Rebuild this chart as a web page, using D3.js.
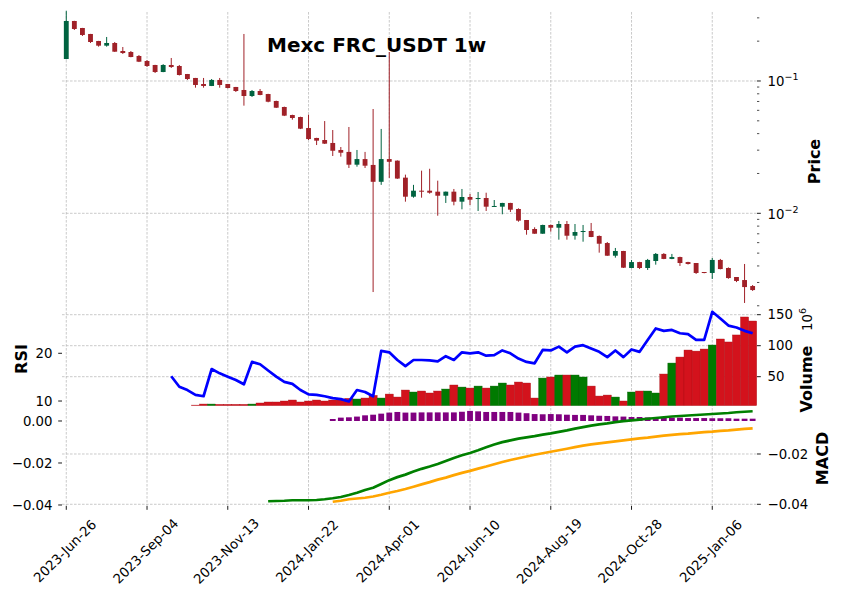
<!DOCTYPE html>
<html><head><meta charset="utf-8">
<script src="https://cdn.jsdelivr.net/npm/d3@7"></script>
<style>
body{margin:0;background:#fff}
text{font-family:"DejaVu Sans",sans-serif;fill:#000}
</style>
</head><body>
<svg id="chart" width="841" height="599"></svg>
<script>
// ---------------- DATA ----------------
const title = "Mexc FRC_USDT 1w";
const startDate = "2023-Jun-26";
const tickLabels = ["2023-Jun-26","2023-Sep-04","2023-Nov-13","2024-Jan-22","2024-Apr-01","2024-Jun-10","2024-Aug-19","2024-Oct-28","2025-Jan-06"];

const opens  = [0.1466,0.2841,0.2515,0.2266,0.2006,0.1849,0.1937,0.1685,0.1656,0.1545,
0.1416,0.1321,0.1169,0.1321,0.1298,0.1129,0.1054,0.0949,0.0917,0.1018,
0.0949,0.0901,0.0855,0.0770,0.0840,0.0797,0.0706,0.0636,0.0553,0.0534,
0.0441,0.0371,0.0358,0.0340,0.0301,0.0291,0.0233,0.0257,0.0232,0.0173,
0.0257,0.0250,0.0186,0.01335,0.01482,0.01482,0.01457,0.01358,0.01457,0.01224,
0.01328,0.01282,0.01305,0.01122,0.01122,0.01197,0.01078,0.00890,0.00761,0.00701,
0.00816,0.00778,0.00830,0.00677,0.00722,0.00735,0.00674,0.00596,0.00478,0.00519,
0.00386,0.00428,0.00386,0.00436,0.00493,0.00452,0.00467,0.00428,0.00421,0.00360,
0.00354,0.00444,0.00386,0.00330,0.00313,0.00282];
const highs  = [0.3396,0.2850,0.2520,0.2270,0.2010,0.2151,0.1971,0.1807,0.1685,0.1570,
0.1440,0.1325,0.1340,0.1492,0.1321,0.1130,0.1055,0.1054,0.1035,0.1054,
0.0950,0.0902,0.2266,0.0855,0.0870,0.0800,0.0710,0.0640,0.0556,0.0537,
0.0556,0.0372,0.0498,0.0426,0.0317,0.0449,0.0301,0.0291,0.0614,0.0434,
0.1656,0.0251,0.0196,0.0164,0.0210,0.0217,0.01764,0.0146,0.01527,0.01527,
0.01399,0.01449,0.01431,0.01260,0.0120,0.0120,0.0109,0.0089,0.00784,0.0082,
0.0082,0.00875,0.00875,0.00830,0.00816,0.00845,0.0068,0.00607,0.00547,0.0052,
0.00444,0.0043,0.00452,0.00501,0.0050,0.00493,0.0047,0.0043,0.00421,0.0036,
0.00459,0.00452,0.0039,0.0033,0.00414,0.00287];
const lows   = [0.1460,0.2429,0.2188,0.1937,0.1817,0.1817,0.1660,0.1600,0.1510,0.1390,
0.1276,0.1149,0.1165,0.1254,0.1100,0.1018,0.0890,0.0890,0.0915,0.0890,
0.0880,0.0826,0.0651,0.0757,0.0780,0.0690,0.0625,0.0543,0.0510,0.0433,
0.0358,0.0328,0.0334,0.0271,0.0268,0.0220,0.0225,0.0220,0.00254,0.0164,
0.0185,0.0182,0.01224,0.01312,0.01312,0.01407,0.00959,0.01197,0.01149,0.01072,
0.01156,0.01041,0.01041,0.0112,0.00983,0.01023,0.00864,0.00689,0.0070,0.0070,
0.00726,0.00632,0.00632,0.00632,0.00610,0.0066,0.00504,0.00477,0.00462,0.00386,
0.00385,0.00379,0.00373,0.00409,0.0045,0.0045,0.00400,0.0041,0.00348,0.00352,
0.00319,0.00377,0.0032,0.00302,0.00210,0.00259];
const closes = [0.2841,0.2472,0.2227,0.1971,0.1849,0.1937,0.1665,0.1627,0.1518,0.1399,
0.1298,0.1169,0.1321,0.1276,0.1110,0.1035,0.0933,0.0917,0.1018,0.0933,
0.0885,0.0840,0.0770,0.0840,0.0784,0.0697,0.0628,0.0547,0.0525,0.0436,
0.0364,0.0354,0.0336,0.0297,0.0287,0.0233,0.0257,0.0229,0.0173,0.0257,
0.0245,0.0183,0.01335,0.01482,0.01457,0.01431,0.01358,0.01457,0.01224,0.01328,
0.01267,0.01305,0.01122,0.01136,0.01197,0.01065,0.00880,0.00748,0.00701,0.00816,
0.00778,0.00830,0.00677,0.00722,0.00735,0.00662,0.00589,0.00478,0.00519,0.00388,
0.00428,0.00386,0.00444,0.00493,0.00452,0.00467,0.00421,0.00414,0.00354,0.00354,
0.00444,0.00379,0.00324,0.00308,0.00277,0.00263];

// volume in millions (null = not drawn)
const volumes = [null,null,null,null,null,null,null,null,null,null,
null,null,null,null,null,null,4.2,5.9,5.9,5.4,
5.4,5.4,5.4,5.9,7.6,9.2,9.2,10.8,12.4,9.2,
10.8,12.4,10.8,12.4,14.0,15.1,14.0,15.6,19.9,15.6,
22.0,17.2,28.5,25.3,26.9,23.7,26.9,30.1,36.6,33.3,
31.7,34.9,31.7,34.9,39.8,36.6,41.4,39.8,15.6,47.8,
49.5,52.7,52.7,52.7,49.5,34.9,18.8,20.4,17.2,10.8,
25.3,26.9,26.9,23.7,54.3,72.0,81.7,93.0,91.3,94.6,
101.1,110.8,106.0,117.3,146.3,139.8];

const rsi = [null,null,null,null,null,null,null,null,null,null,
null,null,null,15.2,13.0,12.3,11.3,11.0,16.7,15.8,
15.1,14.4,13.5,18.2,17.7,16.4,15.1,14.0,13.6,12.3,
11.4,11.3,11.0,10.6,10.4,9.9,12.3,11.9,11.0,20.5,
20.2,18.6,17.3,18.6,18.6,18.5,18.3,19.4,18.6,20.2,
20.0,20.2,19.5,19.6,20.6,20.0,18.9,18.2,17.9,20.7,
20.6,21.4,20.2,21.4,21.7,21.0,20.3,19.2,20.6,19.2,
20.8,20.3,22.8,25.2,24.7,24.9,24.2,24.0,22.8,22.8,
28.7,27.3,25.8,25.4,24.7,24.2];

const macdLine = [null,null,null,null,null,null,null,null,null,null,
null,null,null,null,null,null,null,null,null,null,
null,null,null,null,null,-0.0388,-0.0387,-0.0386,-0.0384,-0.0384,
-0.0384,-0.0383,-0.0380,-0.0376,-0.0371,-0.0363,-0.0354,-0.0343,-0.0334,-0.0319,
-0.0304,-0.0292,-0.0282,-0.0270,-0.0259,-0.0250,-0.0240,-0.0228,-0.0216,-0.0205,
-0.0196,-0.0185,-0.0173,-0.0162,-0.0153,-0.0146,-0.0139,-0.0134,-0.0129,-0.0123,
-0.0118,-0.0112,-0.0106,-0.0099,-0.0093,-0.0087,-0.0082,-0.0078,-0.0073,-0.0069,
-0.0066,-0.0063,-0.0060,-0.0057,-0.0054,-0.0051,-0.0049,-0.0047,-0.0045,-0.0043,
-0.0041,-0.0039,-0.0037,-0.0034,-0.0032,-0.0030];

const signalLine = [null,null,null,null,null,null,null,null,null,null,
null,null,null,null,null,null,null,null,null,null,
null,null,null,null,null,null,null,null,null,null,
null,null,null,-0.0390,-0.0386,-0.0380,-0.0377,-0.0374,-0.0369,-0.0362,
-0.0354,-0.0347,-0.0339,-0.0330,-0.0321,-0.0312,-0.0302,-0.0294,-0.0284,-0.0275,
-0.0267,-0.0258,-0.0250,-0.0241,-0.0232,-0.0224,-0.0217,-0.0210,-0.0203,-0.0197,
-0.0191,-0.0185,-0.0179,-0.0173,-0.0167,-0.0162,-0.0158,-0.0154,-0.0150,-0.0146,
-0.0142,-0.0138,-0.0135,-0.0131,-0.0127,-0.0124,-0.0121,-0.0119,-0.0116,-0.0113,
-0.0111,-0.0108,-0.0106,-0.0103,-0.0100,-0.0098];

const macdHist = [null,null,null,null,null,null,null,null,null,null,
null,null,null,null,null,null,null,null,null,null,
null,null,null,null,null,null,null,null,null,null,
null,null,null,0.00095,0.0016,0.00175,0.0021,0.0027,0.0030,0.0035,
0.0040,0.0043,0.0040,0.0040,0.0041,0.0041,0.0041,0.0041,0.0041,0.0044,
0.0048,0.0046,0.0043,0.0043,0.0043,0.0043,0.0040,0.0037,0.0033,0.0032,
0.0033,0.0032,0.0030,0.0029,0.0029,0.0027,0.0025,0.0024,0.0022,0.0021,
0.0019,0.0019,0.0017,0.0017,0.0017,0.0016,0.0016,0.0014,0.0014,0.0014,
0.0013,0.0013,0.0013,0.0011,0.0011,0.0011];

const priceMajorTicks = [0.1, 0.01];
const priceMinorTicks = [0.3,0.2,0.09,0.08,0.07,0.06,0.05,0.04,0.03,0.02,0.009,0.008,0.007,0.006,0.005,0.004,0.003,0.002];
const volumeTicks = [50,100,150];
const rsiTicks = [10,20];
const macdRightTicks = [-0.02,-0.04];
const macdLeftTicks = [0.00,-0.02,-0.04];

// ---------------- LAYOUT ----------------
const W = 841, H = 599;
const L = 62, R = 757;
const P = {top:12, bot:307};     // price panel
const V = {top:307, bot:405.6};  // volume / rsi panel
const M = {top:405.6, bot:506};  // macd panel
const COLORS = {up:"#006340", down:"#a02128", volUp:"#007a00", volDown:"#d3121c",
  rsi:"#0000ff", macd:"#008000", signal:"#ffa500", hist:"#800080", grid:"#bdbdbd"};

const svg = d3.select("#chart");
const n = opens.length;
const idx = d3.range(n);

const x = d3.scaleLinear().domain([-0.53, 85.54]).range([L, R]);
const step = x(1) - x(0);

const yP = d3.scaleLog().domain([0.001958, 0.3322]).range([P.bot, P.top]);
const yV = d3.scaleLinear().domain([3.4, 162.4]).range([V.bot, V.top]);
const yR = d3.scaleLinear().domain([9.04, 29.7]).range([V.bot, V.top]);
const yM = d3.scaleLinear().domain([-0.04068, -0.00076]).range([M.bot, M.top]);
const yH = d3.scaleLinear().domain([-0.04048, 0.00733]).range([M.bot, M.top]);

const parse = d3.timeParse("%Y-%b-%d");
const t0 = parse(startDate);
const tickPos = tickLabels.map(s => Math.round((parse(s) - t0) / (7*864e5)));

// ---------------- GRID ----------------
const grid = svg.append("g").attr("stroke", COLORS.grid).attr("stroke-width", 0.8)
  .attr("stroke-dasharray", "2.6,1.4").attr("fill", "none");
grid.selectAll("line.v").data(tickPos).join("line")
  .attr("x1", d => x(d)).attr("x2", d => x(d)).attr("y1", P.top).attr("y2", M.bot);
grid.selectAll("line.hp").data(priceMajorTicks).join("line")
  .attr("x1", L).attr("x2", R).attr("y1", d => yP(d)).attr("y2", d => yP(d));
grid.selectAll("line.hv").data(volumeTicks).join("line")
  .attr("x1", L).attr("x2", R).attr("y1", d => yV(d)).attr("y2", d => yV(d));
grid.selectAll("line.hm").data(macdRightTicks).join("line")
  .attr("x1", L).attr("x2", R).attr("y1", d => yM(d)).attr("y2", d => yM(d));

// ---------------- CANDLES ----------------
const candles = idx.map(i => ({i, o:opens[i], h:highs[i], l:lows[i], c:closes[i]}));
const cc = d => d.c >= d.o ? COLORS.up : COLORS.down;
const cg = svg.append("g");
cg.selectAll("line").data(candles).join("line")
  .attr("x1", d => x(d.i)).attr("x2", d => x(d.i))
  .attr("y1", d => yP(d.h)).attr("y2", d => yP(d.l))
  .attr("stroke", cc).attr("stroke-width", 1);
const bw = step * 0.6;
cg.selectAll("rect").data(candles).join("rect")
  .attr("x", d => x(d.i) - bw/2)
  .attr("y", d => yP(Math.max(d.o, d.c)))
  .attr("width", bw)
  .attr("height", d => Math.max(1, yP(Math.min(d.o, d.c)) - yP(Math.max(d.o, d.c))))
  .attr("fill", cc);

// ---------------- VOLUME ----------------
const vols = idx.filter(i => volumes[i] != null).map(i => ({i, v:volumes[i], up: closes[i] >= opens[i]}));
svg.append("g").selectAll("rect").data(vols).join("rect")
  .attr("x", d => x(d.i) - step/2)
  .attr("width", step)
  .attr("y", d => yV(d.v))
  .attr("height", d => Math.max(0.5, V.bot - yV(d.v)))
  .attr("fill", d => d.up ? COLORS.volUp : COLORS.volDown)
  .attr("stroke", d => d3.color(d.up ? COLORS.volUp : COLORS.volDown).darker(0.6))
  .attr("stroke-width", 0.4);

// RSI line
const rsiPts = idx.filter(i => rsi[i] != null).map(i => [x(i), yR(rsi[i])]);
svg.append("path").attr("d", d3.line()(rsiPts)).attr("fill", "none")
  .attr("stroke", COLORS.rsi).attr("stroke-width", 2.7).attr("stroke-linejoin", "round");

// ---------------- MACD ----------------
const hist = idx.filter(i => macdHist[i] != null).map(i => ({i, v: macdHist[i]}));
const hw = step * 0.72;
svg.append("g").selectAll("rect").data(hist).join("rect")
  .attr("x", d => x(d.i) - hw/2).attr("width", hw)
  .attr("y", d => Math.min(yH(d.v), yH(0)))
  .attr("height", d => Math.abs(yH(0) - yH(d.v)))
  .attr("fill", COLORS.hist);

const sigPts = idx.filter(i => signalLine[i] != null).map(i => [x(i), yM(signalLine[i])]);
svg.append("path").attr("d", d3.line()(sigPts)).attr("fill", "none")
  .attr("stroke", COLORS.signal).attr("stroke-width", 2.7).attr("stroke-linejoin", "round");
const macdPts = idx.filter(i => macdLine[i] != null).map(i => [x(i), yM(macdLine[i])]);
svg.append("path").attr("d", d3.line()(macdPts)).attr("fill", "none")
  .attr("stroke", COLORS.macd).attr("stroke-width", 2.7).attr("stroke-linejoin", "round");

// ---------------- AXES ----------------
const FS = 13.3;
const ax = svg.append("g");
// right price axis
ax.selectAll("line.pmaj").data(priceMajorTicks).join("line")
  .attr("x1", R).attr("x2", R + 3.8).attr("y1", d => yP(d)).attr("y2", d => yP(d))
  .attr("stroke", "#000").attr("stroke-width", 0.9);
ax.selectAll("line.pmin").data(priceMinorTicks).join("line")
  .attr("x1", R).attr("x2", R + 2.3).attr("y1", d => yP(d)).attr("y2", d => yP(d))
  .attr("stroke", "#000").attr("stroke-width", 0.7);
priceMajorTicks.forEach(v => {
  const t = ax.append("text").attr("x", R + 10.5).attr("y", yP(v) + 5.5).attr("font-size", FS);
  t.append("tspan").text("10");
  t.append("tspan").attr("dy", -6).attr("font-size", 9.5).text("\u2212" + Math.round(-Math.log10(v)));
});
// right volume axis
ax.selectAll("line.vt").data(volumeTicks).join("line")
  .attr("x1", R).attr("x2", R + 3.8).attr("y1", d => yV(d)).attr("y2", d => yV(d))
  .attr("stroke", "#000").attr("stroke-width", 0.9);
ax.selectAll("text.vt").data(volumeTicks).join("text")
  .attr("x", R + 10.5).attr("y", d => yV(d)).attr("dy", "0.36em").attr("font-size", FS)
  .text(d => d);
// right macd axis
ax.selectAll("line.mt").data(macdRightTicks).join("line")
  .attr("x1", R).attr("x2", R + 3.8).attr("y1", d => yM(d)).attr("y2", d => yM(d))
  .attr("stroke", "#000").attr("stroke-width", 0.9);
ax.selectAll("text.mt").data(macdRightTicks).join("text")
  .attr("x", R + 10.5).attr("y", d => yM(d)).attr("dy", "0.36em").attr("font-size", FS)
  .text(d => d3.format(".2f")(d).replace("-", "\u2212"));
// left rsi axis
ax.selectAll("line.rt").data(rsiTicks).join("line")
  .attr("x1", L - 3.8).attr("x2", L).attr("y1", d => yR(d)).attr("y2", d => yR(d))
  .attr("stroke", "#000").attr("stroke-width", 0.9);
ax.selectAll("text.rt").data(rsiTicks).join("text")
  .attr("x", L - 9.5).attr("y", d => yR(d)).attr("dy", "0.36em").attr("font-size", FS)
  .attr("text-anchor", "end").text(d => d);
// left macd axis
ax.selectAll("line.lt").data(macdLeftTicks).join("line")
  .attr("x1", L - 3.8).attr("x2", L).attr("y1", d => yH(d)).attr("y2", d => yH(d))
  .attr("stroke", "#000").attr("stroke-width", 0.9);
ax.selectAll("text.lt").data(macdLeftTicks).join("text")
  .attr("x", L - 9.5).attr("y", d => yH(d)).attr("dy", "0.36em").attr("font-size", FS)
  .attr("text-anchor", "end").text(d => d3.format(".2f")(d).replace("-", "\u2212"));
// bottom x axis
ax.selectAll("line.xt").data(tickPos).join("line")
  .attr("x1", d => x(d)).attr("x2", d => x(d)).attr("y1", M.bot).attr("y2", M.bot + 3.8)
  .attr("stroke", "#000").attr("stroke-width", 0.9);
ax.selectAll("text.xt").data(tickPos).join("text")
  .attr("transform", d => `translate(${x(d) - 1.5},551) rotate(-45)`)
  .attr("text-anchor", "middle").attr("dy", "0.36em").attr("font-size", FS)
  .text((d, k) => tickLabels[k]);

// ---------------- LABELS ----------------
svg.append("text").attr("x", 267).attr("y", 52).attr("font-size", 20).attr("font-weight", "bold")
  .text(title);
const vlab = (txt, xx, yy, size, bold) => svg.append("text")
  .attr("transform", `translate(${xx},${yy}) rotate(-90)`).attr("text-anchor", "middle")
  .attr("font-size", size).attr("font-weight", bold ? "bold" : "normal").text(txt);
vlab("Price", 820, 161.5, 16, true);
vlab("Volume", 812, 379, 16, true);
vlab("MACD", 828, 458.5, 16, true);
vlab("RSI", 27, 359, 16, true);
const off = svg.append("text").attr("transform", "translate(812,331) rotate(-90)")
  .attr("font-size", FS);
off.append("tspan").text("10");
off.append("tspan").attr("dy", -6).attr("font-size", 9.5).text("6");
</script>
</body></html>
